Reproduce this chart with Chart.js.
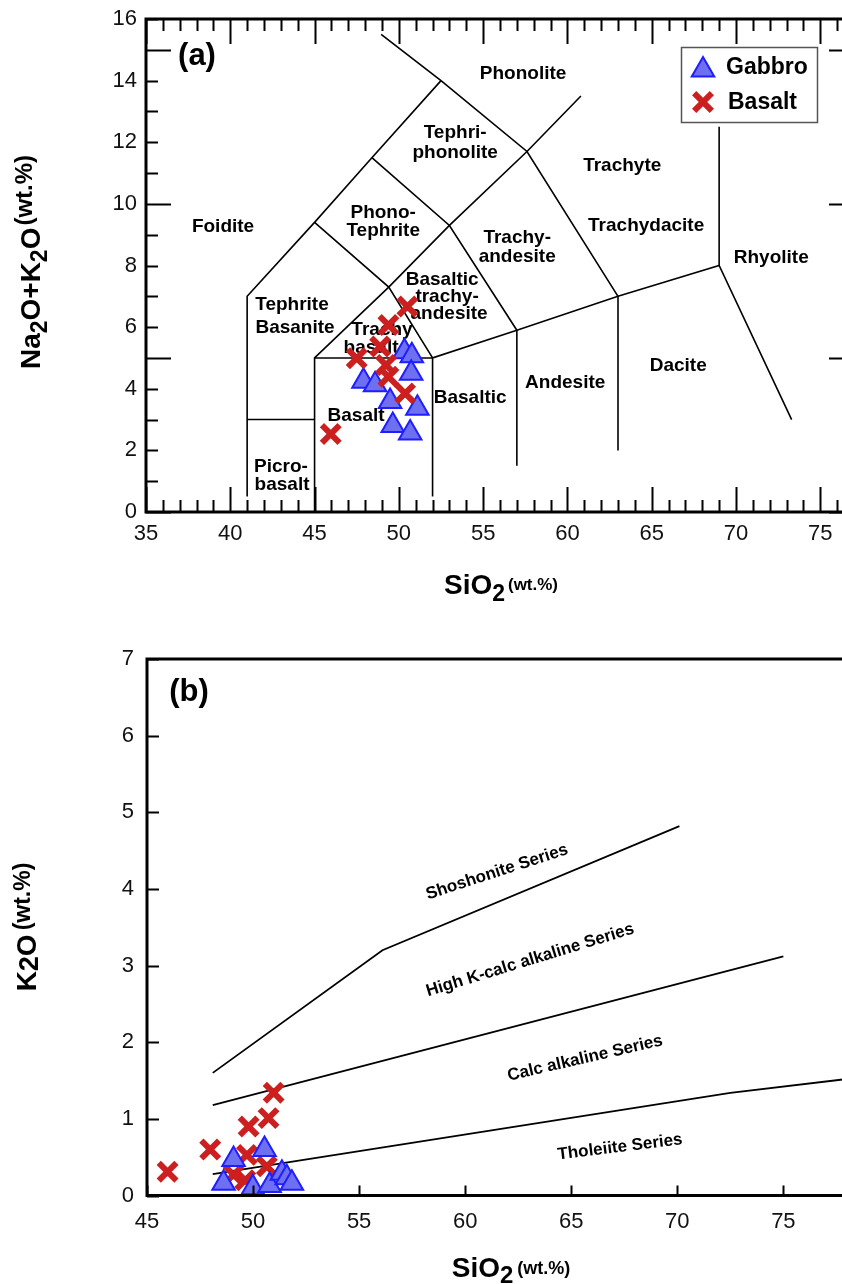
<!DOCTYPE html>
<html><head><meta charset="utf-8">
<script src="https://cdn.jsdelivr.net/npm/chart.js@4.4.0/dist/chart.umd.min.js"></script>
<style>
html,body{margin:0;padding:0;background:#fff;overflow:hidden;width:842px;height:1284px;}
#wa{position:absolute;left:0;top:0;width:860px;height:620px;}
#wb{position:absolute;left:0;top:620px;width:860px;height:664px;}
canvas{display:block;}
</style></head><body>
<div id="wa"><canvas id="ca" width="860" height="620"></canvas></div>
<div id="wb"><canvas id="cb" width="860" height="664"></canvas></div>
<script>
// ---------- DATA ----------
// (a) TAS diagram
const seriesNames = ["Gabbro", "Basalt"];
const gabbroSiO2A = [50.33, 50.77, 50.73, 47.90, 48.59, 49.48, 51.10, 49.64, 50.67];
const gabbroAlkA  = [5.20, 5.07, 4.50, 4.24, 4.13, 3.59, 3.37, 2.81, 2.56];
const basaltSiO2A = [50.51, 49.38, 48.89, 47.50, 49.24, 49.38, 50.37, 45.96];
const basaltAlkA  = [6.67, 6.07, 5.37, 4.99, 4.77, 4.39, 3.85, 2.53];
const tasXTicks = [35, 40, 45, 50, 55, 60, 65, 70, 75];
const tasYTicks = [0, 2, 4, 6, 8, 10, 12, 14, 16];
const tasBoundaries = [
  [[48.95, 15.5], [52.5, 14], [57.6, 11.7], [63, 7]],
  [[41, 0.5], [41, 7], [45, 9.4], [48.4, 11.5], [52.5, 14]],
  [[48.4, 11.5], [53, 9.3], [57, 5.9]],
  [[45, 9.4], [49.4, 7.3], [52, 5]],
  [[45, 0], [45, 5], [49.4, 7.3], [53, 9.3], [57.6, 11.7], [60.8, 13.5]],
  [[41, 3], [45, 3]],
  [[45, 5], [52, 5]],
  [[52, 0.5], [52, 5], [57, 5.9], [63, 7], [69, 8], [73.3, 3]],
  [[57, 1.5], [57, 5.9]],
  [[63, 2], [63, 7]],
  [[69, 8], [69, 12.5]]
];
const tasFieldText = ["Phonolite", "Tephri-", "phonolite", "Trachyte", "Foidite", "Phono-", "Tephrite",
  "Trachy-", "andesite", "Trachydacite", "Rhyolite", "Tephrite", "Basanite", "Basaltic", "trachy-",
  "andesite", "Trachy", "basalt", "Basaltic", "Andesite", "Dacite", "Basalt", "Picro-", "basalt"];
const tasFieldX = [57.37, 53.34, 53.34, 63.25, 39.57, 49.07, 49.07, 57.02, 57.02, 64.67, 72.09, 43.66,
  43.84, 52.57, 52.86, 52.98, 49.0, 48.35, 54.23, 59.87, 66.57, 47.46, 43.01, 43.07];
const tasFieldY = [14.22, 12.31, 11.66, 11.23, 9.25, 9.71, 9.12, 8.90, 8.28, 9.29, 8.25, 6.72,
  5.97, 7.53, 6.98, 6.43, 5.91, 5.32, 3.70, 4.19, 4.74, 3.12, 1.46, 0.88];

// (b) K2O vs SiO2
const gabbroSiO2B = [49.08, 50.54, 48.61, 49.99, 50.78, 51.36, 51.59, 51.83];
const gabbroK2OB  = [0.47, 0.60, 0.16, 0.10, 0.13, 0.29, 0.23, 0.16];
const basaltSiO2B = [45.97, 47.98, 49.79, 50.73, 50.97, 49.71, 49.08, 49.63, 50.65];
const basaltK2OB  = [0.31, 0.60, 0.90, 1.01, 1.34, 0.53, 0.27, 0.20, 0.38];
const k2oXTicks = [45, 50, 55, 60, 65, 70, 75];
const k2oYTicks = [0, 1, 2, 3, 4, 5, 6, 7];
const k2oBoundaries = [
  [[48.1, 1.6], [56.1, 3.2], [70.1, 4.82]],
  [[48.1, 1.18], [75, 3.12]],
  [[48.1, 0.28], [72.5, 1.34], [78, 1.52]]
];
const k2oSeriesText  = ["Shoshonite Series", "High K-calc alkaline Series", "Calc alkaline Series", "Tholeiite Series"];
const k2oSeriesX     = [61.5, 63.06, 65.65, 67.3];
const k2oSeriesY     = [4.22, 3.07, 1.79, 0.63];
const k2oSeriesAngle = [-18, -17, -13, -7];

// ---------- HELPERS ----------
const FAM = '"Liberation Sans", Arial, Helvetica, sans-serif';
const zip = (xs, ys) => xs.map((x, i) => ({x: x, y: ys[i]}));
const pl = arr => arr.map(p => ({x: p[0], y: p[1]}));

function drawRuns(ctx, runs, cx, cy, angle) {
  ctx.save();
  ctx.translate(cx, cy);
  ctx.rotate(angle);
  ctx.fillStyle = '#000';
  ctx.textAlign = 'left';
  ctx.textBaseline = 'alphabetic';
  const w = runs.map(r => { ctx.font = 'bold ' + r.size + 'px ' + FAM; return ctx.measureText(r.t).width + (r.gap || 0); });
  let x = -w.reduce((a, b) => a + b, 0) / 2;
  runs.forEach((r, i) => {
    ctx.font = 'bold ' + r.size + 'px ' + FAM;
    ctx.fillText(r.t, x + (r.gap || 0), r.dy || 0);
    x += w[i];
  });
  ctx.restore();
}

function boundaryDatasets(list, width) {
  return list.map(p => ({
    label: '', data: pl(p), showLine: true, pointRadius: 0, pointHoverRadius: 0,
    borderColor: '#000', borderWidth: width, order: 10, fill: false
  }));
}

const gabbroStyle = {pointStyle: 'triangle', pointRadius: 13, pointHoverRadius: 13,
  backgroundColor: '#6f6ff2', borderColor: '#1e1eff', borderWidth: 2};
const basaltStyle = {pointStyle: 'crossRot', pointRadius: 12.5, pointHoverRadius: 12.5,
  backgroundColor: '#cc1f1f', borderColor: '#cc1f1f', borderWidth: 6};

function tickScale(values, size, pad, fitKey, fitVal, min, max) {
  return {
    type: 'linear', min: min, max: max,
    grid: {display: false, drawTicks: false}, border: {display: false},
    ticks: {color: '#111', font: {family: FAM, size: size}, padding: pad, autoSkip: false, maxRotation: 0},
    afterBuildTicks: s => { s.ticks = values.map(v => ({value: v})); },
    afterFit: s => {
      s[fitKey] = fitVal;
      s.paddingLeft = 0; s.paddingRight = 0; s.paddingTop = 0; s.paddingBottom = 0;
    }
  };
}

// ---------- CHART (a) ----------
const pluginA = {
  id: 'tasDecor',
  beforeDatasetsDraw(chart) {
    const ctx = chart.ctx, xs = chart.scales.x, ys = chart.scales.y;
    ctx.save();
    ctx.fillStyle = '#000';
    ctx.font = 'bold 19px ' + FAM;
    ctx.textAlign = 'center';
    ctx.textBaseline = 'middle';
    tasFieldText.forEach((t, i) => ctx.fillText(t, xs.getPixelForValue(tasFieldX[i]), ys.getPixelForValue(tasFieldY[i])));
    ctx.restore();
  },
  afterDatasetsDraw(chart) {
    const ctx = chart.ctx, xs = chart.scales.x, ys = chart.scales.y, a = chart.chartArea;
    ctx.save();
    ctx.strokeStyle = '#000';
    ctx.lineWidth = 2;
    ctx.beginPath();
    for (let v = 35; v <= 77; v++) {
      const len = v % 5 === 0 ? 25 : 12, px = Math.round(xs.getPixelForValue(v)) + 0.5;
      ctx.moveTo(px, a.bottom); ctx.lineTo(px, a.bottom - len);
      ctx.moveTo(px, a.top); ctx.lineTo(px, a.top + len);
    }
    for (let v = 0; v <= 16; v++) {
      const len = v % 5 === 0 ? 25 : 12, py = Math.round(ys.getPixelForValue(v)) + 0.5;
      ctx.moveTo(a.left, py); ctx.lineTo(a.left + len, py);
      ctx.moveTo(a.right, py); ctx.lineTo(a.right - len, py);
    }
    ctx.stroke();
    ctx.lineWidth = 3;
    ctx.strokeRect(a.left, a.top, a.right - a.left, a.bottom - a.top);
    // panel tag
    ctx.fillStyle = '#000';
    ctx.font = 'bold 31px ' + FAM;
    ctx.textAlign = 'center';
    ctx.textBaseline = 'middle';
    ctx.fillText('(a)', a.left + 51, a.top + 37);
    // legend
    const lx = 681, ly = 47, lw = 136, lh = 75;
    ctx.fillStyle = '#fff';
    ctx.fillRect(lx, ly, lw, lh);
    ctx.lineWidth = 1.5;
    ctx.strokeStyle = '#555';
    ctx.strokeRect(lx + 0.5, ly + 0.5, lw, lh);
    ctx.fillStyle = gabbroStyle.backgroundColor; ctx.strokeStyle = gabbroStyle.borderColor; ctx.lineWidth = 2;
    Chart.helpers.drawPoint(ctx, {pointStyle: 'triangle', radius: 13, borderWidth: 2, rotation: 0}, 703, 70);
    ctx.fillStyle = basaltStyle.backgroundColor; ctx.strokeStyle = basaltStyle.borderColor; ctx.lineWidth = 6;
    Chart.helpers.drawPoint(ctx, {pointStyle: 'crossRot', radius: 12.5, borderWidth: 6, rotation: 0}, 703, 102);
    ctx.fillStyle = '#000';
    ctx.font = 'bold 23px ' + FAM;
    ctx.textAlign = 'left';
    ctx.textBaseline = 'middle';
    ctx.fillText(chart.data.datasets[0].label, 726, 68);
    ctx.fillText(chart.data.datasets[1].label, 728, 103);
    // axis titles
    drawRuns(ctx, [{t: 'SiO', size: 28}, {t: '2', size: 23, dy: 7}, {t: '(wt.%)', size: 17, dy: -4, gap: 3}], 501, 594, 0);
    drawRuns(ctx, [{t: 'Na', size: 28}, {t: '2', size: 23, dy: 7}, {t: 'O+K', size: 28}, {t: '2', size: 23, dy: 7},
      {t: 'O', size: 28}, {t: '(wt.%)', size: 24, dy: -8, gap: 2}], 40, 262, -Math.PI / 2);
    ctx.restore();
  }
};

new Chart(document.getElementById('ca'), {
  type: 'scatter',
  data: {datasets: [
    Object.assign({label: seriesNames[0], data: zip(gabbroSiO2A, gabbroAlkA), order: 2}, gabbroStyle),
    Object.assign({label: seriesNames[1], data: zip(basaltSiO2A, basaltAlkA), order: 1}, basaltStyle)
  ].concat(boundaryDatasets(tasBoundaries, 1.6))},
  options: {
    responsive: false, animation: false, events: [],
    layout: {autoPadding: false, padding: {left: 0, top: 19, right: 6, bottom: 0}},
    plugins: {legend: {display: false}, tooltip: {enabled: false}},
    scales: {
      x: tickScale(tasXTicks, 22, 9, 'height', 108, 35, 77),
      y: tickScale(tasYTicks, 22, 9, 'width', 146, 0, 16)
    }
  },
  plugins: [pluginA]
});

// ---------- CHART (b) ----------
const pluginB = {
  id: 'k2oDecor',
  beforeDatasetsDraw(chart) {
    const ctx = chart.ctx, xs = chart.scales.x, ys = chart.scales.y;
    k2oSeriesText.forEach((t, i) => {
      ctx.save();
      ctx.translate(xs.getPixelForValue(k2oSeriesX[i]), ys.getPixelForValue(k2oSeriesY[i]));
      ctx.rotate(k2oSeriesAngle[i] * Math.PI / 180);
      ctx.fillStyle = '#000';
      ctx.font = 'bold 17px ' + FAM;
      ctx.textAlign = 'center';
      ctx.textBaseline = 'middle';
      ctx.fillText(t, 0, 0);
      ctx.restore();
    });
  },
  afterDatasetsDraw(chart) {
    const ctx = chart.ctx, xs = chart.scales.x, ys = chart.scales.y, a = chart.chartArea;
    ctx.save();
    ctx.strokeStyle = '#000';
    ctx.lineWidth = 2;
    ctx.beginPath();
    k2oXTicks.forEach(v => {
      const px = Math.round(xs.getPixelForValue(v)) + 0.5;
      ctx.moveTo(px, a.bottom); ctx.lineTo(px, a.bottom - 10);
    });
    k2oYTicks.forEach(v => {
      const py = Math.round(ys.getPixelForValue(v)) + 0.5;
      ctx.moveTo(a.left, py); ctx.lineTo(a.left + 12, py);
    });
    ctx.stroke();
    ctx.lineWidth = 3;
    ctx.strokeRect(a.left, a.top, a.right - a.left, a.bottom - a.top);
    ctx.fillStyle = '#000';
    ctx.font = 'bold 31px ' + FAM;
    ctx.textAlign = 'center';
    ctx.textBaseline = 'middle';
    ctx.fillText('(b)', a.left + 42, a.top + 33);
    drawRuns(ctx, [{t: 'SiO', size: 28}, {t: '2', size: 24, dy: 6}, {t: '(wt.%)', size: 18, dy: -3, gap: 4}], 511, 657, 0);
    drawRuns(ctx, [{t: 'K', size: 28}, {t: '2', size: 27, dy: 2}, {t: 'O', size: 28},
      {t: '(wt.%)', size: 23, dy: -6, gap: 4}], 36, 307, -Math.PI / 2);
    ctx.restore();
  }
};

new Chart(document.getElementById('cb'), {
  type: 'scatter',
  data: {datasets: [
    Object.assign({label: seriesNames[0], data: zip(gabbroSiO2B, gabbroK2OB), order: 1}, gabbroStyle),
    Object.assign({label: seriesNames[1], data: zip(basaltSiO2B, basaltK2OB), order: 2}, basaltStyle)
  ].concat(boundaryDatasets(k2oBoundaries, 1.8))},
  options: {
    responsive: false, animation: false, events: [],
    layout: {autoPadding: false, padding: {left: 0, top: 39, right: 13, bottom: 0}},
    plugins: {legend: {display: false}, tooltip: {enabled: false}},
    scales: {
      x: tickScale(k2oXTicks, 22, 13, 'height', 88.5, 45, 78),
      y: tickScale(k2oYTicks, 22, 13, 'width', 147, 0, 7)
    }
  },
  plugins: [pluginB]
});
</script>
</body></html>
